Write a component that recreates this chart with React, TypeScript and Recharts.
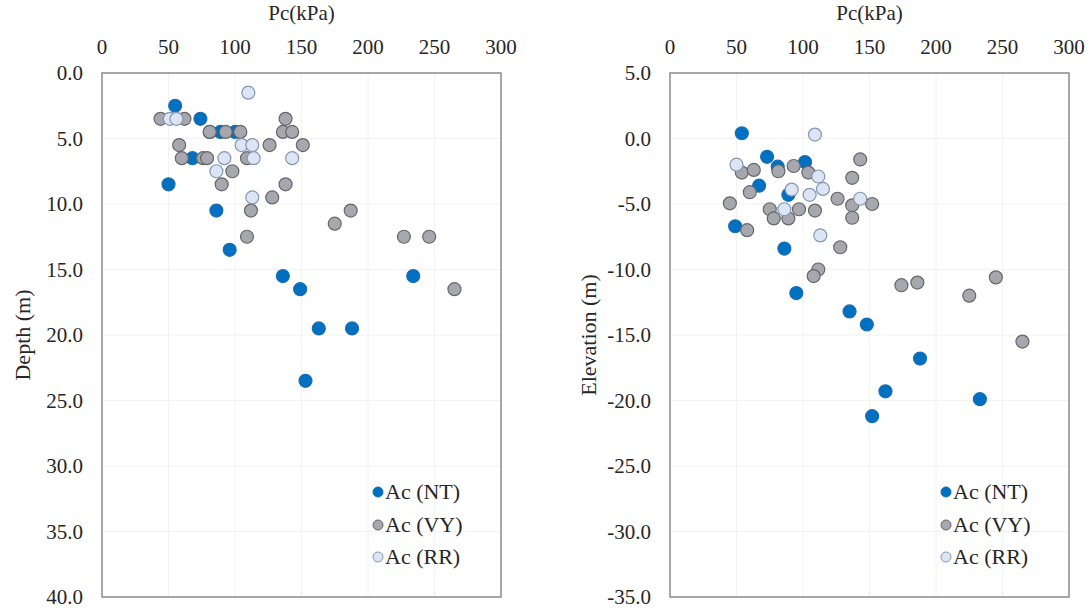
import {
  CartesianGrid,
  Legend,
  ReferenceArea,
  Scatter,
  ScatterChart,
  XAxis,
  YAxis
} from "recharts";

const pcTicks = [0, 50, 100, 150, 200, 250, 300];
const depthTicks = [0, 5, 10, 15, 20, 25, 30, 35, 40];
const elevTicks = [5, 0, -5, -10, -15, -20, -25, -30, -35];

// depth profile (left)
const ntPcDepth = [55, 74, 81, 89, 100, 68, 50, 86, 96, 136, 234, 149, 163, 188, 153];
const ntDepth = [2.5, 3.5, 4.5, 4.5, 4.5, 6.5, 8.5, 10.5, 13.5, 15.5, 15.5, 16.5, 19.5, 19.5, 23.5];
const vyPcDepth = [44, 62, 138, 81, 93, 104, 136, 143, 58, 126, 151, 60, 76, 79, 109, 98, 90, 138, 128, 112, 187, 175, 109, 227, 246, 265];
const vyDepth = [3.5, 3.5, 3.5, 4.5, 4.5, 4.5, 4.5, 4.5, 5.5, 5.5, 5.5, 6.5, 6.5, 6.5, 6.5, 7.5, 8.5, 8.5, 9.5, 10.5, 10.5, 11.5, 12.5, 12.5, 12.5, 16.5];
const rrPcDepth = [110, 51, 56, 105, 113, 92, 114, 143, 86, 113];
const rrDepth = [1.5, 3.5, 3.5, 5.5, 5.5, 6.5, 6.5, 6.5, 7.5, 9.5];

// elevation profile (right)
const ntPcElev = [54, 73, 101.5, 81, 67, 89, 49, 86, 95, 135, 148, 188, 162, 233, 152];
const ntElev = [0.4, -1.4, -1.8, -2.15, -3.6, -4.3, -6.7, -8.4, -11.8, -13.2, -14.2, -16.8, -19.3, -19.9, -21.2];
const vyPcElev = [143, 81.5, 54, 63, 93, 104, 137, 60, 45, 126, 137, 152, 75, 97, 109, 78, 89, 137, 58, 128, 111.5, 108, 174, 186, 245, 225, 265];
const vyElev = [-1.6, -2.5, -2.6, -2.4, -2.1, -2.6, -3.0, -4.1, -4.95, -4.6, -5.1, -5.0, -5.4, -5.4, -5.5, -6.1, -6.1, -6.05, -7.0, -8.3, -10.0, -10.5, -11.2, -11.0, -10.6, -12.0, -15.5];
const rrPcElev = [109, 50, 111.5, 115, 91.5, 105, 143, 86, 113];
const rrElev = [0.3, -2.0, -2.9, -3.85, -3.9, -4.3, -4.6, -5.4, -7.4];

const FONT = "Liberation Serif, DejaVu Serif, serif";
const TEXT = "#262626";

const SERIES = [
  { name: "Ac (NT)", fill: "#0070c0", stroke: "#1a6db3" },
  { name: "Ac (VY)", fill: "#a7a7af", stroke: "#676767" },
  { name: "Ac (RR)", fill: "#dce5f4", stroke: "#8496b2" }
];

const zip = (xs: number[], ys: number[]) => xs.map((x, i) => ({ pc: x, y: ys[i] }));

function LegendBox() {
  return (
    <div style={{ fontFamily: FONT, fontSize: 22, color: TEXT }}>
      {SERIES.map((s) => (
        <div key={s.name} style={{ display: "flex", alignItems: "center", height: 32.5 }}>
          <svg width={14} height={14}>
            <circle cx={7} cy={7} r={5} fill={s.fill} stroke={s.stroke} />
          </svg>
          <span style={{ whiteSpace: "nowrap" }}>{s.name}</span>
        </div>
      ))}
    </div>
  );
}

function Profile(props: {
  width: number;
  sets: { pc: number; y: number }[][];
  domain: [number, number];
  ticks: number[];
  reversed: boolean;
  yLabel: string;
  axisWidth: number;
  labelOffset: number;
  marginRight: number;
  legendLeft: number;
}) {
  const tickStyle = { fontFamily: FONT, fontSize: 21, fill: TEXT };
  return (
    <ScatterChart
      width={props.width}
      height={610}
      margin={{ top: 0, right: props.marginRight, bottom: 13, left: 0 }}
      style={{ fontFamily: FONT }}
    >
      <CartesianGrid stroke="#f2f2f2" />
      <XAxis
        type="number"
        dataKey="pc"
        orientation="top"
        domain={[0, 300]}
        ticks={pcTicks}
        interval={0}
        height={73}
        axisLine={false}
        tickLine={false}
        tickSize={0}
        tickMargin={19}
        tick={tickStyle}
        label={{
          value: "Pc(kPa)",
          position: "insideTop",
          offset: 5,
          style: { fontFamily: FONT, fontSize: 21, fill: TEXT }
        }}
      />
      <YAxis
        type="number"
        dataKey="y"
        domain={props.domain}
        ticks={props.ticks}
        interval={0}
        reversed={props.reversed}
        width={props.axisWidth}
        axisLine={false}
        tickLine={false}
        tickSize={0}
        tickMargin={19}
        tick={tickStyle}
        tickFormatter={(v: number) => v.toFixed(1)}
        label={{
          value: props.yLabel,
          angle: -90,
          position: "insideLeft",
          offset: props.labelOffset,
          style: { fontFamily: FONT, fontSize: 22, fill: TEXT, textAnchor: "middle" }
        }}
      />
      <ReferenceArea
        x1={0}
        x2={300}
        y1={props.domain[0]}
        y2={props.domain[1]}
        fill="none"
        stroke="#8c8c8c"
        strokeWidth={1.5}
        ifOverflow="visible"
      />
      {SERIES.map((s, i) => (
        <Scatter
          key={s.name}
          name={s.name}
          data={props.sets[i]}
          isAnimationActive={false}
          shape={(p: any) => (
            <circle cx={p.cx} cy={p.cy} r={6.5} fill={s.fill} stroke={s.stroke} strokeWidth={1.2} />
          )}
        />
      ))}
      <Legend
        layout="horizontal"
        verticalAlign="middle"
        align="center"
        content={() => <LegendBox />}
        wrapperStyle={{ left: props.legendLeft, top: 476, width: "auto" }}
      />
    </ScatterChart>
  );
}

export default function App() {
  return (
    <div style={{ position: "absolute", left: 0, top: 0, display: "flex", background: "#fff" }}>
      <Profile
        width={545}
        sets={[zip(ntPcDepth, ntDepth), zip(vyPcDepth, vyDepth), zip(rrPcDepth, rrDepth)]}
        domain={[0, 40]}
        ticks={depthTicks}
        reversed={true}
        yLabel="Depth (m)"
        axisWidth={102}
        labelOffset={22}
        marginRight={44}
        legendLeft={371}
      />
      <Profile
        width={546}
        sets={[zip(ntPcElev, ntElev), zip(vyPcElev, vyElev), zip(rrPcElev, rrElev)]}
        domain={[-35, 5]}
        ticks={elevTicks}
        reversed={false}
        yLabel="Elevation (m)"
        axisWidth={125}
        labelOffset={43}
        marginRight={22}
        legendLeft={394}
      />
    </div>
  );
}
